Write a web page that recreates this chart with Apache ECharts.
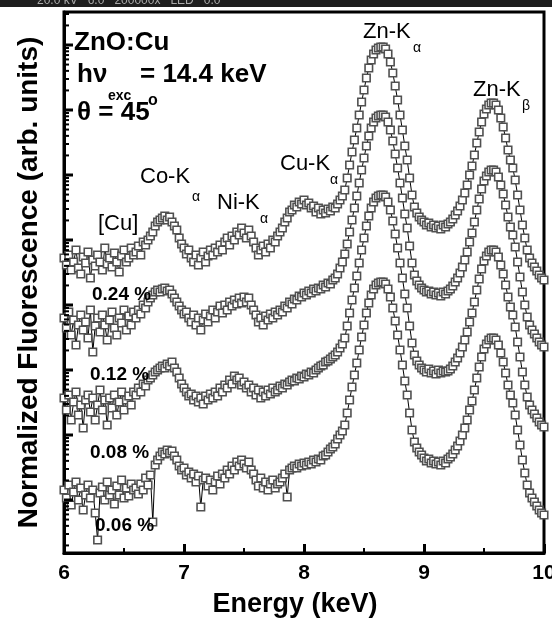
<!DOCTYPE html>
<html>
<head>
<meta charset="utf-8">
<script src="https://cdn.jsdelivr.net/npm/echarts@6/dist/echarts.min.js"></script>
<style>
html,body{margin:0;padding:0;background:#fff;overflow:hidden;}
#chart{width:552px;height:618px;}
</style>
</head>
<body>
<div id="chart"></div>
<script>
// Energy grid (keV), sampled every 0.02 keV from 6 to 10
const energyStart = 6, energyStep = 0.02, energyCount = 201;
const energies = Array.from({length: energyCount}, (_, i) => +(energyStart + i * energyStep).toFixed(2));

// Normalized fluorescence (arb. units, stacked offsets)
const specA = [
295,288,298,283,291,303,285,279,296,290,
301,275,293,287,298,291,283,305,289,295,
286,300,291,281,297,303,291,295,305,298,
301,307,298,311,308,313,317,321,327,331,
333,335,337,333,336,331,327,323,315,309,
305,299,303,295,291,298,288,295,301,291,
297,303,298,305,301,308,303,311,315,308,
317,313,321,318,325,320,315,323,317,311,
305,298,303,307,301,309,305,313,311,317,
321,325,331,335,341,343,348,346,351,349,
353,348,350,345,347,341,345,339,343,340,
344,342,346,345,349,353,357,363,375,388,
401,413,425,438,451,463,475,485,493,499,
503,505,506,506,504,499,491,480,467,453,
438,423,407,393,375,358,346,340,336,333,
331,328,330,326,328,325,327,324,328,326,
329,331,334,338,342,347,353,360,368,378,
387,398,410,421,431,439,444,448,450,450,
448,443,435,426,415,403,393,385,373,358,
343,328,315,303,295,290,286,282,278,275,273];

const specB = [
235,225,241,218,233,208,228,238,223,231,
215,243,201,227,235,221,238,228,213,233,
241,225,218,235,230,243,223,237,228,241,
235,243,239,248,245,251,255,258,261,263,
261,264,265,262,263,259,255,251,247,243,
239,241,235,231,238,228,235,223,233,239,
231,237,243,235,241,247,240,248,243,251,
247,253,249,255,250,256,251,255,248,243,
238,231,235,228,237,233,239,235,241,238,
243,241,247,245,251,249,254,253,257,256,
260,258,262,260,264,262,265,264,268,266,
270,269,273,275,279,285,291,299,309,321,
333,345,357,370,383,395,407,417,425,431,
435,437,438,438,436,431,423,412,399,385,
370,355,339,325,307,290,278,272,268,265,
263,261,262,259,261,258,260,257,261,259,
262,264,267,271,275,280,286,293,301,311,
320,331,343,354,364,372,377,381,383,383,
381,376,368,359,348,336,326,318,306,291,
276,261,248,236,228,223,219,215,211,208,206];

const specC = [
155,143,158,133,151,161,138,148,125,153,
158,141,155,133,148,163,143,153,128,155,
145,158,138,151,161,143,153,157,148,161,
158,165,161,169,167,173,175,178,181,183,
185,187,185,189,187,191,185,181,175,169,
165,161,157,159,153,157,151,155,149,157,
153,159,155,161,157,165,161,168,165,173,
169,177,173,175,168,171,165,168,161,165,
158,163,155,161,157,163,159,165,161,163,
167,165,169,168,171,173,172,175,174,177,
176,179,178,181,180,183,185,187,188,191,
192,194,196,198,201,205,209,215,227,240,
253,265,277,290,303,315,327,337,345,351,
355,357,358,358,356,351,343,332,319,305,
290,275,259,245,227,210,198,192,188,185,
183,181,184,180,182,179,183,180,182,181,
182,184,187,191,195,200,206,213,221,231,
240,251,263,274,284,292,297,301,303,303,
301,296,288,279,268,256,246,238,226,211,
196,181,168,156,148,143,139,135,131,128,126];

const specD = [
63,55,68,48,61,71,53,65,43,58,
68,55,63,40,13,60,66,53,71,58,
63,49,67,58,73,55,65,57,69,63,
65,59,69,63,75,68,78,31,88,93,
97,101,99,103,100,102,97,93,87,83,
85,78,81,75,79,71,77,46,73,75,
67,73,63,71,77,69,79,75,83,79,
87,83,91,87,93,89,85,91,83,79,
73,67,75,65,71,63,69,73,65,69,
71,75,79,56,83,85,87,85,89,87,
90,88,91,89,93,91,94,93,97,98,
101,104,106,109,114,118,122,128,140,153,
166,178,190,203,216,228,240,250,258,264,
268,270,271,271,269,264,256,245,232,218,
203,188,172,158,140,123,111,105,101,98,
95,92,94,90,92,89,91,88,92,90,
94,96,99,103,107,112,118,125,133,143,
152,163,175,186,196,204,209,213,215,215,
213,208,200,191,180,168,158,150,138,123,
108,93,80,68,60,55,51,47,43,40,38];

const xTickLabels = ['6', '7', '8', '9', '10'];
// log-style decade ticks on the left axis (axis units)
const yDecades = [-12, 53, 118, 183, 248, 313, 378, 443, 508];
const decadeSize = 65;
const yMin = 0, yMax = 541;

const FONT = "'Liberation Sans', Arial, Helvetica, sans-serif";

const yTicks = [];
yDecades.forEach(d => {
  if (d >= yMin && d <= yMax) yTicks.push([6, d, 9, 3]);
  for (let m = 2; m <= 9; m++) {
    const v = d + decadeSize * Math.log10(m);
    if (v >= yMin && v <= yMax) yTicks.push([6, v, 5, 2]);
  }
});

function mkSeries(name, arr) {
  return {
    name: name,
    type: 'line',
    data: energies.map((e, i) => [e, arr[i]]),
    symbol: 'rect',
    symbolSize: 7.5,
    showAllSymbol: true,
    lineStyle: {color: '#000', width: 1},
    itemStyle: {color: '#fff', borderColor: '#505050', borderWidth: 1.6},
    emphasis: {disabled: true},
    animation: false,
    z: 3
  };
}

function txt(text, x, y, size, weight) {
  return {
    type: 'text', z: 100,
    style: {
      text: text, x: x, y: y,
      font: (weight || 'normal') + ' ' + size + 'px ' + FONT,
      fill: '#000', align: 'left', verticalAlign: 'middle'
    }
  };
}

const chart = echarts.init(document.getElementById('chart'), null, {renderer: 'canvas'});
chart.setOption({
  backgroundColor: '#fff',
  animation: false,
  grid: {left: 64, right: 8, top: 12, bottom: 65, show: true, borderColor: '#000', borderWidth: 3,
    backgroundColor: 'transparent', containLabel: false, outerBoundsMode: 'none'},
  xAxis: {
    type: 'value', min: 6, max: 10, interval: 1,
    axisLine: {lineStyle: {color: '#000', width: 3}},
    axisTick: {inside: true, length: 9, lineStyle: {color: '#000', width: 3}},
    minorTick: {show: true, splitNumber: 2, length: 5, lineStyle: {color: '#000', width: 2}},
    splitLine: {show: false},
    axisLabel: {
      color: '#000', fontSize: 21, fontWeight: 'bold', fontFamily: FONT, margin: 10,
      formatter: v => xTickLabels[Math.round(v - 6)] || ''
    },
    name: 'Energy (keV)', nameLocation: 'middle', nameGap: 38,
    nameTextStyle: {color: '#000', fontSize: 27, fontWeight: 'bold', fontFamily: FONT, padding: [0, 18, 0, 0]}
  },
  yAxis: {
    type: 'value', min: yMin, max: yMax,
    axisLine: {lineStyle: {color: '#000', width: 3}},
    axisTick: {show: false},
    axisLabel: {show: false},
    splitLine: {show: false},
    name: 'Normalized Fluorescence (arb. units)', nameLocation: 'middle', nameGap: 21, nameRotate: 90,
    nameTextStyle: {color: '#000', fontSize: 28, fontWeight: 'bold', fontFamily: FONT}
  },
  series: [
    mkSeries('0.24 %', specA),
    mkSeries('0.12 %', specB),
    mkSeries('0.08 %', specC),
    mkSeries('0.06 %', specD),
    {
      type: 'custom', data: yTicks, z: 10, silent: true, clip: false,
      renderItem: function (params, api) {
        const p = api.coord([api.value(0), api.value(1)]);
        return {type: 'line', shape: {x1: p[0], y1: p[1], x2: p[0] + api.value(2), y2: p[1]},
          style: {stroke: '#000', lineWidth: api.value(3)}};
      }
    }
  ],
  graphic: [
    {type: 'rect', z: 100, shape: {x: 0, y: 0, width: 552, height: 7}, style: {fill: '#1e1e1e'}},
    {type: 'text', z: 101, style: {text: '20.0 kV   6.0   200000x   LED   0.0', x: 37, y: 1, font: '12px ' + FONT, fill: '#aaa', verticalAlign: 'middle'}},
    txt('ZnO:Cu', 74, 43, 26, 'bold'),
    txt('h\u03bd', 77, 75, 26, 'bold'),
    txt('exc', 108, 96, 14, 'bold'),
    txt('= 14.4 keV', 140, 75, 26, 'bold'),
    txt('\u03b8 = 45', 77, 113, 26, 'bold'),
    txt('o', 148, 101, 16, 'bold'),
    txt('Co-K', 140, 177, 22),
    txt('\u03b1', 192, 197, 14),
    txt('Ni-K', 217, 203, 22),
    txt('\u03b1', 260, 219, 14),
    txt('Cu-K', 280, 164, 22),
    txt('\u03b1', 330, 180, 14),
    txt('Zn-K', 363, 32, 22),
    txt('\u03b1', 413, 48, 14),
    txt('Zn-K', 473, 90, 22),
    txt('\u03b2', 522, 106, 14),
    txt('[Cu]', 98, 224, 22),
    txt('0.24 %', 92, 295, 19, 'bold'),
    txt('0.12 %', 90, 375, 19, 'bold'),
    txt('0.08 %', 90, 453, 19, 'bold'),
    txt('0.06 %', 95, 526, 19, 'bold')
  ]
});
</script>
</body>
</html>
